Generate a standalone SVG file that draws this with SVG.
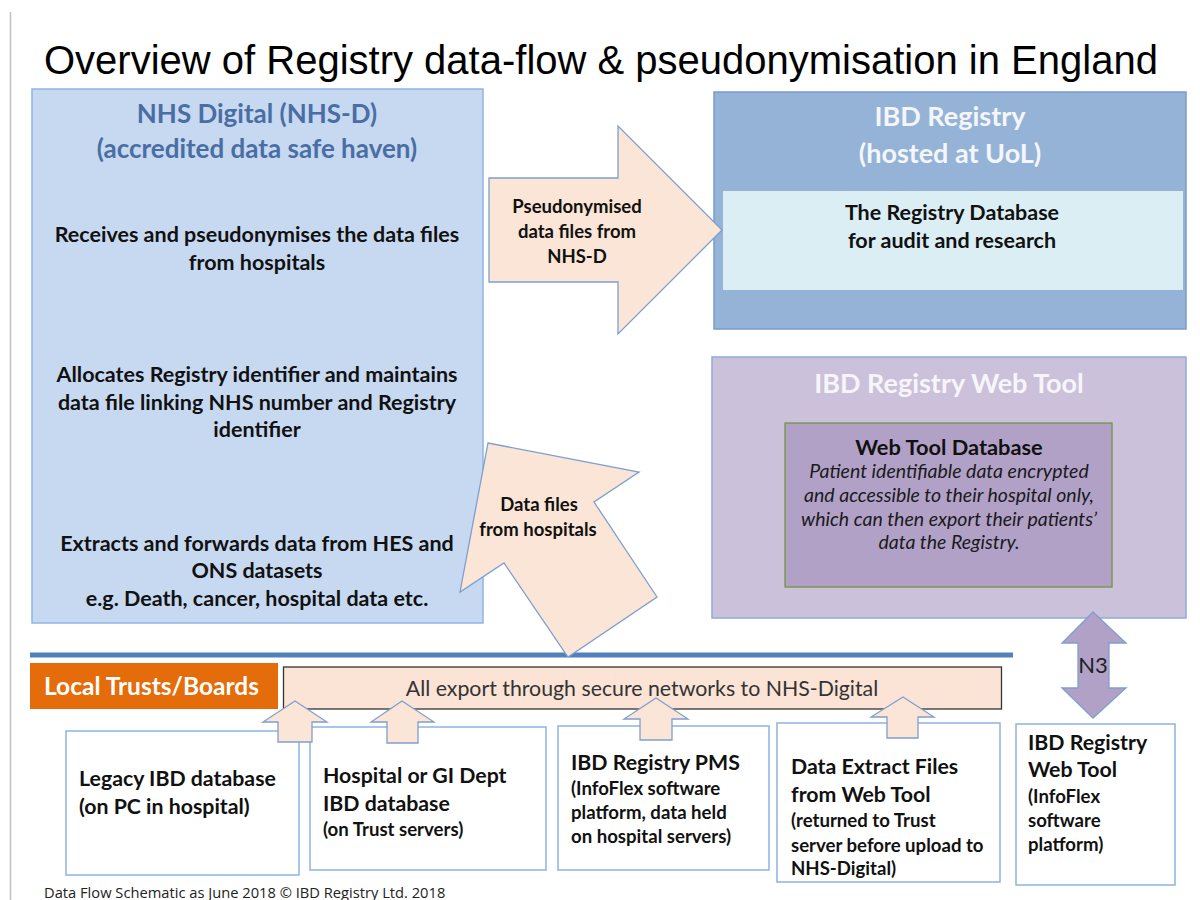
<svg xmlns="http://www.w3.org/2000/svg" width="1200" height="900" viewBox="0 0 1200 900">
<defs>
<style>
.t{font-family:Lato,"Open Sans","Liberation Sans",sans-serif;}
.b{font-weight:bold;}
.c{text-anchor:middle;}
.body{font-size:21.5px;fill:#111;}
.head{font-size:27px;font-weight:bold;}
.peach{fill:#fbe5d6;stroke:#7f9fcf;stroke-width:1.3;}
.bbox{fill:#ffffff;stroke:#8db3e2;stroke-width:1.5;}
.bt{font-size:21.3px;font-weight:bold;fill:#111;}
.bs{font-size:18.6px;font-weight:bold;fill:#111;}
.al{font-size:18.5px;font-weight:bold;fill:#111;}
</style>
</defs>
<rect x="0" y="0" width="1200" height="900" fill="#ffffff"/>
<line x1="10.5" y1="12" x2="10.5" y2="900" stroke="#c0c0c0" stroke-width="1.5"/>
<text x="44" y="74" font-family="'Liberation Sans',Arial,sans-serif" font-size="40" fill="#000">Overview of Registry data-flow &amp; pseudonymisation in England</text>

<g id="nhs-digital">
<rect x="32" y="89" width="451" height="534" fill="#c6d9f1" stroke="#8eb4e3" stroke-width="1.5"/>
<text class="t head c" x="257" y="123" font-size="26" fill="#4a6ea3" style="font-size:26px">NHS Digital (NHS-D)</text>
<text class="t head c" x="257" y="158" fill="#4a6ea3" style="font-size:26px">(accredited data safe haven)</text>
<text class="t b body c" x="257" y="242">Receives and pseudonymises the data files</text>
<text class="t b body c" x="257" y="270">from hospitals</text>
<text class="t b body c" x="257" y="382">Allocates Registry identifier and maintains</text>
<text class="t b body c" x="257" y="410">data file linking NHS number and Registry</text>
<text class="t b body c" x="257" y="437">identifier</text>
<text class="t b body c" x="257" y="551">Extracts and forwards data from HES and</text>
<text class="t b body c" x="257" y="578">ONS datasets</text>
<text class="t b body c" x="257" y="606">e.g. Death, cancer, hospital data etc.</text>
</g>

<g id="ibd-registry">
<rect x="714" y="92" width="472" height="237" fill="#95b3d7" stroke="#7a9bcb" stroke-width="1.5"/>
<text class="t head c" x="950" y="126" fill="#f4f6fa">IBD Registry</text>
<text class="t head c" x="950" y="163" fill="#f4f6fa">(hosted at UoL)</text>
<rect x="723" y="191" width="460" height="99" fill="#dbeef4"/>
<text class="t b body c" x="952" y="220">The Registry Database</text>
<text class="t b body c" x="952" y="248">for audit and research</text>
</g>

<g id="web-tool">
<rect x="712" y="357" width="474" height="261" fill="#ccc1da" stroke="#8eaadb" stroke-width="1.5"/>
<text class="t head c" x="949" y="393" fill="#f7f5fa">IBD Registry Web Tool</text>
<rect x="785" y="423" width="327" height="164" fill="#b2a1c7" stroke="#77933c" stroke-width="1.3"/>
<text class="t b c" x="949" y="455" font-size="21.8" fill="#111">Web Tool Database</text>
<g class="t c" font-size="19.5" font-style="italic" fill="#1a1a1a">
<text x="949" y="478">Patient identifiable data encrypted</text>
<text x="949" y="502">and accessible to their hospital only,</text>
<text x="949" y="526">which can then export their patients’</text>
<text x="949" y="549">data the Registry.</text>
</g>
</g>

<g id="local-trusts">
<line x1="30" y1="655" x2="1013" y2="655" stroke="#4f81bd" stroke-width="5"/>
<rect x="30" y="663" width="248" height="46" fill="#e46c0a"/>
<text class="t b" x="44" y="695" font-size="24.5" fill="#ffffff">Local Trusts/Boards</text>
</g>

<g id="export-bar">
<rect x="283.5" y="667" width="718" height="42" fill="#fbe4d5" stroke="#333333" stroke-width="1.3"/>
<text class="t c" x="642" y="696" font-size="21.3" fill="#333333">All export through secure networks to NHS-Digital</text>
</g>

<g id="legacy-db">
<rect class="bbox" x="66" y="731" width="233" height="144"/>
<text class="t bt" x="79" y="786">Legacy IBD database</text>
<text class="t bt" x="79" y="814">(on PC in hospital)</text>
</g>

<g id="hospital-db">
<rect class="bbox" x="310" y="727" width="236" height="143"/>
<text class="t bt" x="323" y="783">Hospital or GI Dept</text>
<text class="t bt" x="323" y="811">IBD database</text>
<text class="t bs" x="323" y="836">(on Trust servers)</text>
</g>

<g id="registry-pms">
<rect class="bbox" x="558" y="726" width="211" height="144"/>
<text class="t bt" x="571" y="770">IBD Registry PMS</text>
<text class="t bs" x="571" y="795">(InfoFlex software</text>
<text class="t bs" x="571" y="819">platform, data held</text>
<text class="t bs" x="571" y="843">on hospital servers)</text>
</g>

<g id="extract-files">
<rect class="bbox" x="777" y="723" width="223" height="159"/>
<text class="t bt" x="791" y="774">Data Extract Files</text>
<text class="t bt" x="791" y="802">from Web Tool</text>
<text class="t bs" x="791" y="827">(returned to Trust</text>
<text class="t bs" x="791" y="852">server before upload to</text>
<text class="t bs" x="791" y="875">NHS-Digital)</text>
</g>

<g id="web-tool-platform">
<rect class="bbox" x="1016" y="724" width="159" height="161"/>
<text class="t bt" x="1028" y="750">IBD Registry</text>
<text class="t bt" x="1028" y="777">Web Tool</text>
<text class="t bs" x="1028" y="803">(InfoFlex</text>
<text class="t bs" x="1028" y="827">software</text>
<text class="t bs" x="1028" y="851">platform)</text>
</g>

<g id="connectors">
<g id="arrow-pseudonymised">
<polygon class="peach" points="489,178 618,178 618,126 722,230 618,334 618,282 489,282"/>
<text class="t al c" x="577" y="213">Pseudonymised</text>
<text class="t al c" x="577" y="238">data files from</text>
<text class="t al c" x="577" y="263">NHS-D</text>
</g>
<g id="arrow-hospital-files">
<polygon class="peach" points="488,443 639,472 594,502 657,597 568,657 504,563 460,592"/>
<text class="t al c" x="539" y="511">Data files</text>
<text class="t al c" x="538" y="536">from hospitals</text>
</g>
<polygon class="peach" points="295,701 327,722 312,722 312,742 278,742 278,722 263,722"/>
<polygon class="peach" points="402,701 434,722 418,722 418,743 387,743 387,722 371,722"/>
<polygon class="peach" points="656,698 688,719 672,719 672,740 640,740 640,719 624,719"/>
<polygon class="peach" points="903,697 934,717 918,717 918,738 887,738 887,717 871,717"/>
<g id="arrow-n3">
<polygon points="1093,612 1126,643 1109,643 1109,688 1126,688 1093,718 1062,688 1078,688 1078,643 1062,643" fill="#b2a1c7" stroke="#7f9fcf" stroke-width="1.3"/>
<text class="t c" x="1093" y="673" font-size="22" fill="#222">N3</text>
</g>
</g>

<text x="44" y="898" font-family="'Open Sans','Liberation Sans',sans-serif" font-size="14.7" fill="#222">Data Flow Schematic as June 2018 © IBD Registry Ltd. 2018</text>
</svg>
